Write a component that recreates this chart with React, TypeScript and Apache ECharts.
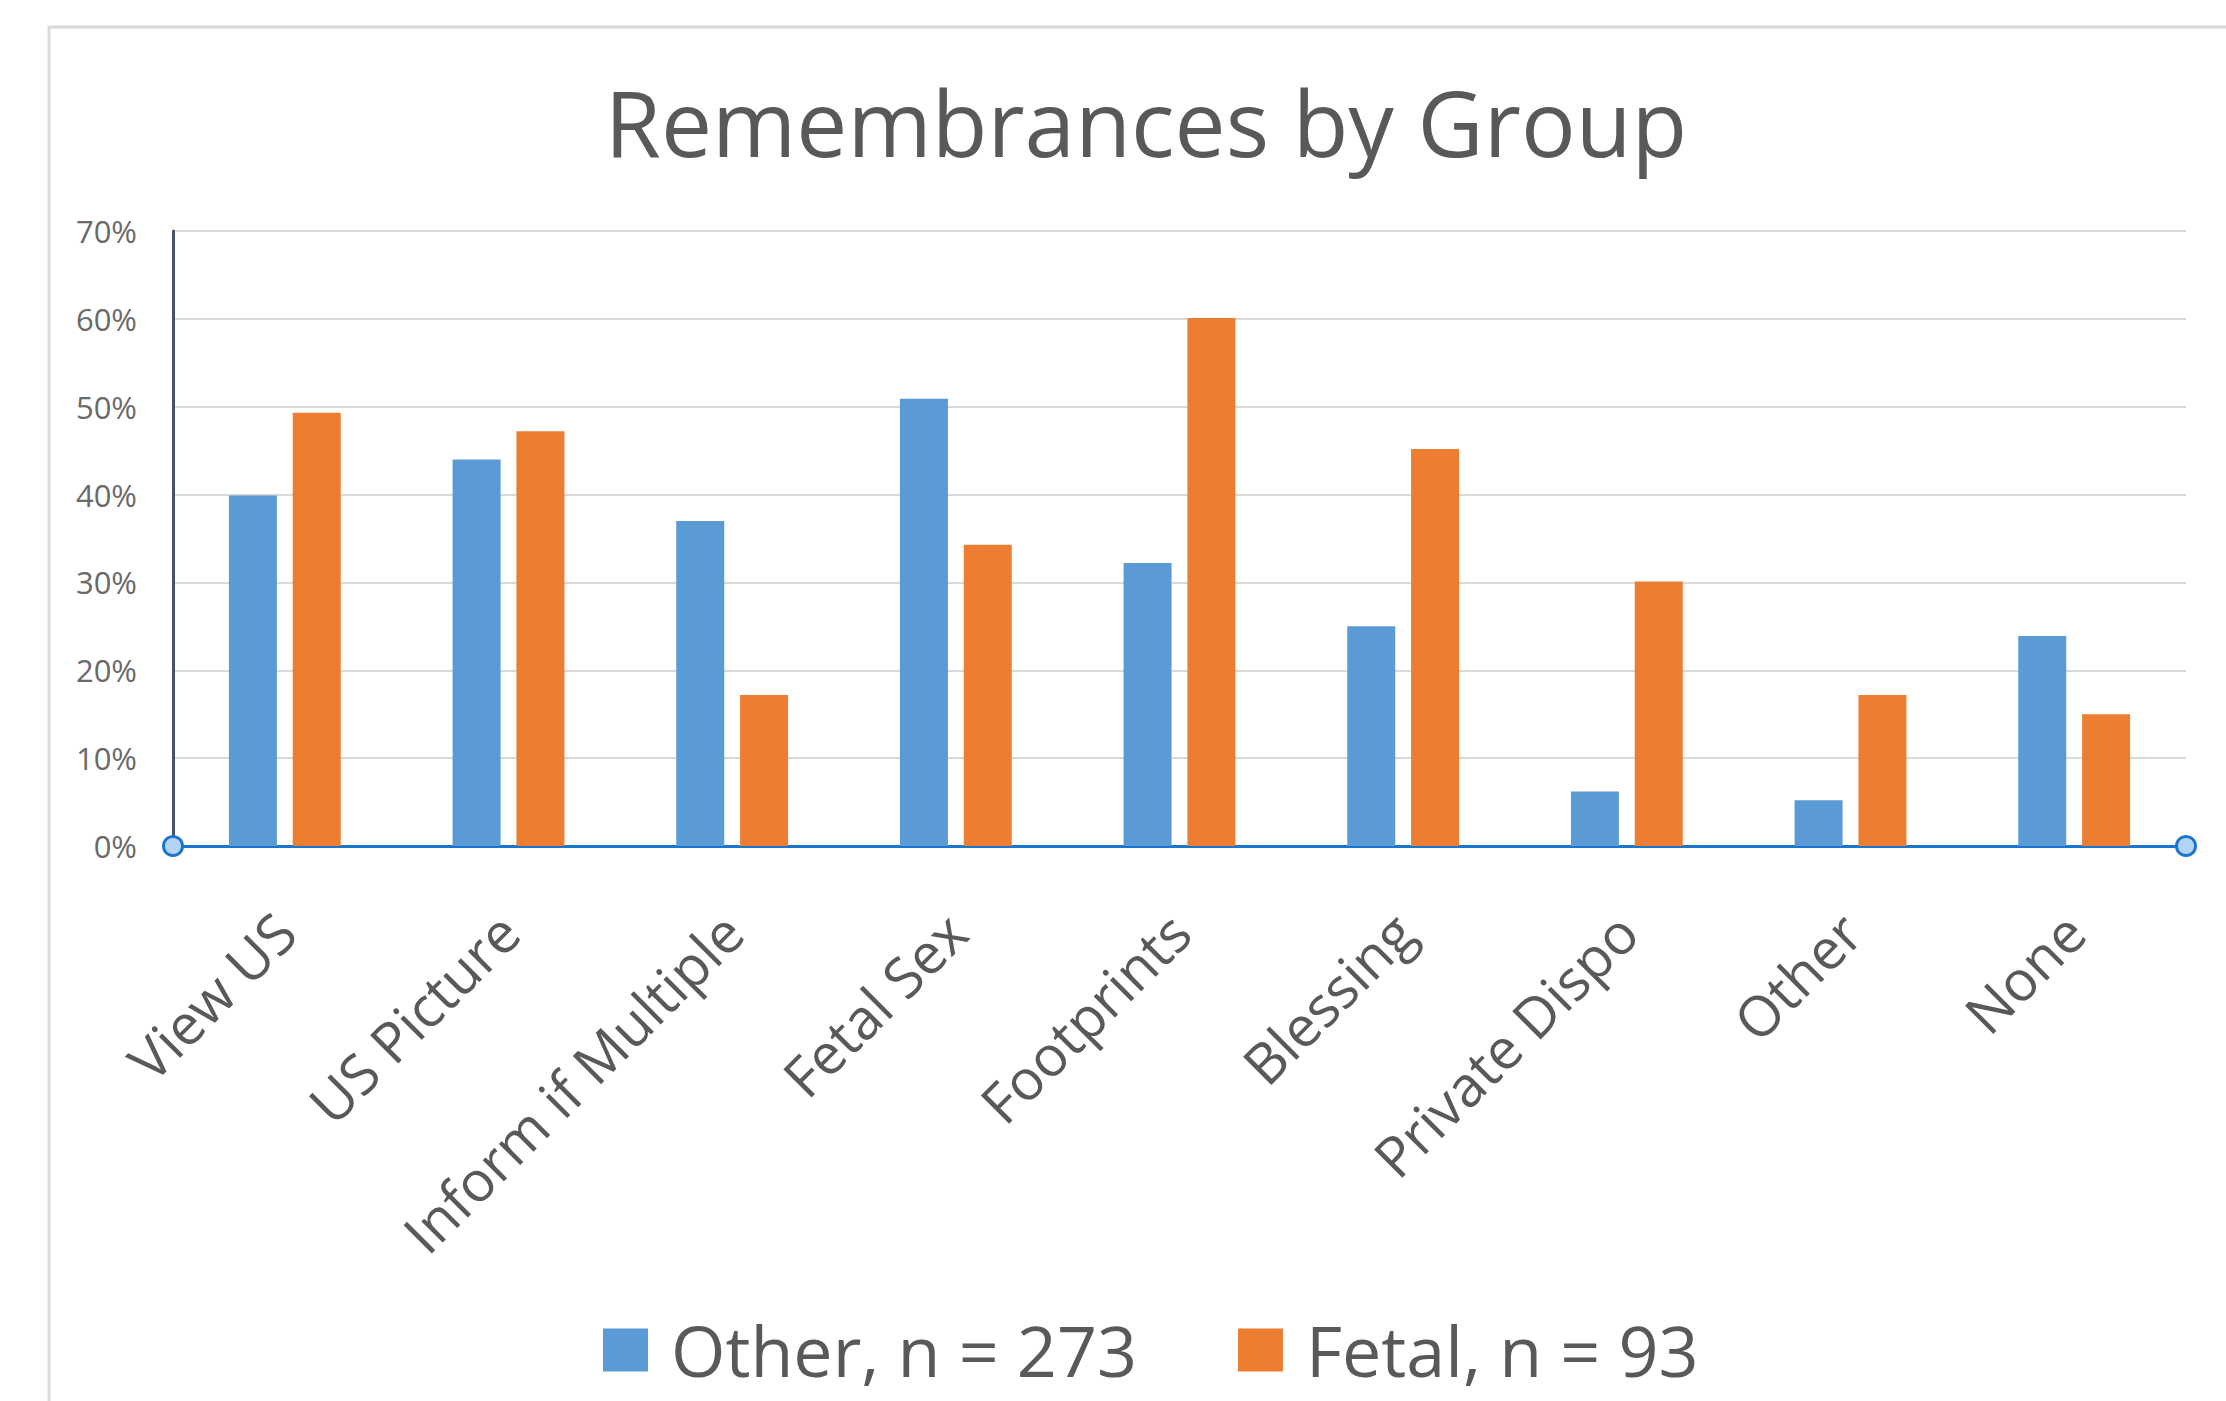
import React, { useEffect, useRef } from "react";
import * as echarts from "echarts";

const categories = [
  "View US",
  "US Picture",
  "Inform if Multiple",
  "Fetal Sex",
  "Footprints",
  "Blessing",
  "Private Dispo",
  "Other",
  "None",
];
const otherValues = [39.9, 44.0, 37.0, 50.9, 32.2, 25.0, 6.2, 5.2, 23.9];
const fetalValues = [49.3, 47.2, 17.2, 34.3, 60.1, 45.2, 30.1, 17.2, 15.0];
const seriesNames = ["Other, n = 273", "Fetal, n = 93"];
const yTicks = { min: 0, max: 70, interval: 10 };

const W = 2226;
const H = 1401;
const GRID = { left: 173, right: 40, top: 231, bottom: 555 };
const FONT = "'Open Sans', 'Noto Sans', sans-serif";
const TEXT = "#595959";

export default function App() {
  const ref = useRef<HTMLDivElement>(null);
  useEffect(() => {
    if (!ref.current) return;
    const chart = echarts.init(ref.current, undefined, { renderer: "svg" });
    const axisY = H - GRID.bottom;
    const x0 = GRID.left;
    const x1 = W - GRID.right;
    chart.setOption({
      animation: false,
      backgroundColor: "#ffffff",
      textStyle: { fontFamily: FONT },
      title: {
        text: "Remembrances by Group",
        left: 1146,
        top: 76,
        padding: 0,
        textAlign: "center",
        textStyle: {
          fontFamily: FONT,
          fontSize: 91,
          fontWeight: "normal",
          color: TEXT,
          lineHeight: 91,
        },
      },
      legend: {
        left: 603,
        top: 1315,
        padding: 0,
        icon: "rect",
        itemWidth: 45,
        itemHeight: 43,
        itemGap: 101,
        textStyle: {
          fontFamily: FONT,
          fontSize: 70,
          color: TEXT,
          lineHeight: 70,
          padding: [0, 0, 0, 18],
        },
        data: seriesNames,
      },
      grid: {
        left: GRID.left,
        right: GRID.right,
        top: GRID.top,
        bottom: GRID.bottom,
        containLabel: false,
      },
      xAxis: {
        type: "category",
        data: categories,
        boundaryGap: true,
        axisTick: { show: false },
        axisLine: { show: true, lineStyle: { color: "#1a75cf", width: 3 } },
        axisLabel: {
          rotate: 45,
          interval: 0,
          margin: 76,
          fontFamily: FONT,
          fontSize: 56,
          color: TEXT,
        },
        splitLine: { show: false },
      },
      yAxis: {
        type: "value",
        min: yTicks.min,
        max: yTicks.max,
        interval: yTicks.interval,
        axisLine: { show: true, lineStyle: { color: "#44546a", width: 3 } },
        axisTick: { show: false },
        axisLabel: {
          formatter: "{value}%",
          margin: 36,
          fontFamily: FONT,
          fontSize: 31,
          color: "#6a6a6a",
        },
        splitLine: { show: true, lineStyle: { color: "#d9d9d9", width: 2 } },
      },
      series: [
        {
          name: seriesNames[0],
          type: "bar",
          data: otherValues,
          barWidth: 48,
          barGap: "33%",
          itemStyle: { color: "#5b9bd5" },
        },
        {
          name: seriesNames[1],
          type: "bar",
          data: fetalValues,
          barWidth: 48,
          barGap: "33%",
          itemStyle: { color: "#ed7d31" },
        },
      ],
      graphic: [
        {
          type: "rect",
          silent: true,
          z: -10,
          shape: { x: 49, y: 27, width: 2400, height: 1600 },
          style: { fill: "none", stroke: "#d9d9d9", lineWidth: 3 },
        },
        {
          type: "circle",
          z: 100,
          shape: { cx: x0, cy: axisY, r: 9.5 },
          style: { fill: "#b3d4f5", stroke: "#1a75cf", lineWidth: 3 },
        },
        {
          type: "circle",
          z: 100,
          shape: { cx: x1, cy: axisY, r: 9.5 },
          style: { fill: "#b3d4f5", stroke: "#1a75cf", lineWidth: 3 },
        },
      ],
    });
    return () => chart.dispose();
  }, []);
  return (
    <div
      ref={ref}
      style={{ position: "fixed", left: 0, top: 0, width: W, height: H }}
    />
  );
}
